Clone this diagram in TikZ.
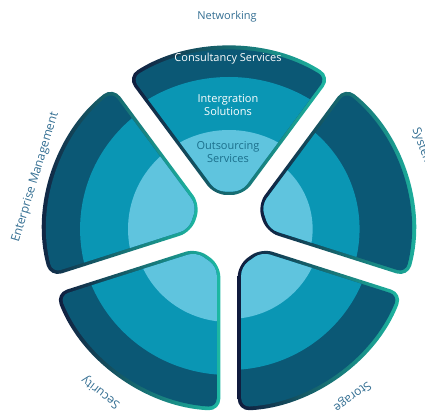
\documentclass[tikz,border=0pt]{standalone}
\usepackage{fontspec}
\setmainfont{Open Sans}
\definecolor{navyb}{HTML}{101B3D}
\definecolor{tealb}{HTML}{1DB9A3}
\definecolor{bdark}{HTML}{0B5875}
\definecolor{bmid}{HTML}{0A96B4}
\definecolor{blight}{HTML}{5FC4DE}
\definecolor{lbl}{HTML}{336E92}
\definecolor{outs}{HTML}{1B6F8C}
\newcommand\wedgecalc[4]{%
  \pgfmathsetmacro\wT{(#4-sin(36)*#2)/cos(36)}%
  \pgfmathsetmacro\wX{sin(36)*\wT-cos(36)*#2}%
  \pgfmathsetmacro\wRb{sqrt(\wX*\wX+#4*#4)}%
  \pgfmathsetmacro\wAb{atan(\wX/#4)}%
  \pgfmathsetmacro\wAo{36-asin(#2/#3)}%
  \pgfmathsetmacro\wS{#1-\wAo}%
  \pgfmathsetmacro\wE{#1+\wAo}%
  \pgfmathsetmacro\wP{#1-\wAb}%
  \pgfmathsetmacro\wQ{#1+\wAb}%
}
\newcommand\drawwedge[3]{%
  \wedgecalc{#1}{8.5}{182}{34}%
  \shade[left color=navyb, right color=tealb, rounded corners=12]
    (\wP:\wRb) -- (\wS:182) arc[start angle=\wS, end angle=\wE, radius=182] -- (\wQ:\wRb) -- cycle;
  \wedgecalc{#1}{12}{178.5}{37.5}%
  \begin{scope}
    \clip[rounded corners=8.5]
      (\wP:\wRb) -- (\wS:178.5) arc[start angle=\wS, end angle=\wE, radius=178.5] -- (\wQ:\wRb) -- cycle;
    \fill[bdark] (0,0) circle[radius=190];
    \fill[bmid] (0,0) circle[radius=#3];
    \fill[blight] (0,0) circle[radius=#2];
  \end{scope}
}
\tikzset{
  outlbl/.style={text=lbl, font=\fontsize{12}{14}\selectfont, inner sep=0pt},
  inlbl/.style={text=white, font=\fontsize{11}{13}\selectfont, align=center, inner sep=0pt},
}
\begin{document}
\begin{tikzpicture}[x=1pt, y=1pt]
\useasboundingbox (-229,-188) rectangle (196,229);
\begin{scope}[xscale=1.02]
  \drawwedge{90}{99}{152}
  \drawwedge{162}{99}{146}
  \drawwedge{234}{93}{146}
  \drawwedge{306}{90}{141}
  \drawwedge{18}{82}{128}
\end{scope}
\node[inlbl] (tcons) at (-1,170) {Consultancy Services};
\node[inlbl] (tint) at (-1,124) {Intergration\\Solutions};
\node[inlbl, text=outs] (tout) at (-1,77) {Outsourcing\\Services};
\node[outlbl, font=\fontsize{11}{13}\selectfont] (lnet) at (-2,212) {Networking};
\node[outlbl, rotate=73] (lent) at (-193.5,51.5) {Enterprise Management};
\node[outlbl, rotate=143] (lsec) at (-128,-163) {Security};
\node[outlbl, rotate=-144] (lsto) at (123,-167) {Storage};
\begin{scope}
  \clip (-229,-188) rectangle (196,229);
  \node[outlbl, rotate=-70] (lsys) at (194,79) {Systems};
\end{scope}
\end{tikzpicture}
\end{document}
